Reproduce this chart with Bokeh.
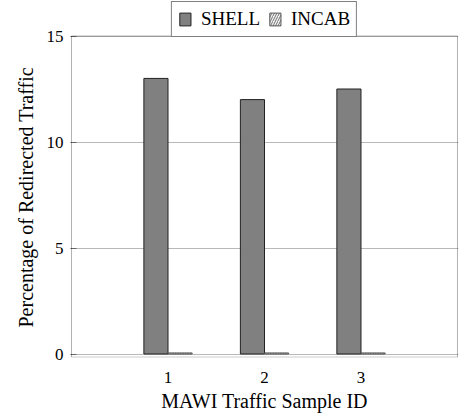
from bokeh.plotting import figure
from bokeh.models import (Range1d, FixedTicker, Legend, LegendItem,
                          ColumnDataSource, BoxAnnotation, Title)
from bokeh.transform import dodge
from bokeh.embed import file_html
from bokeh.resources import INLINE

samples = [1, 2, 3]
tick_labels = {1: "1", 2: "2", 3: "3"}
shell = [13.0, 12.0, 12.5]
incab = [0.05, 0.05, 0.05]
y_ticks = [0, 5, 10, 15]

FONT = "Liberation Serif"

src = ColumnDataSource(dict(sample=samples, shell=shell, incab=incab))

# frame spans the legend strip too; the axis box is drawn as an annotation
p = figure(width=465, height=417, output_backend="svg", toolbar_location=None,
           x_range=Range1d(-0.0104, 4.0104), y_range=Range1d(-0.165, 16.675),
           min_border_left=70, min_border_right=7, min_border_bottom=60,
           min_border_top=0)

r1 = p.vbar(x=dodge("sample", -0.125, range=p.x_range), top="shell", bottom=0,
            width=0.25, source=src, fill_color="#808080", line_color="#222222",
            line_width=1)
r2 = p.vbar(x=dodge("sample", 0.125, range=p.x_range), top="incab", bottom=0,
            width=0.25, source=src, fill_color="#ffffff", line_color="#555555",
            line_width=1, hatch_pattern="/", hatch_color="#333333",
            hatch_scale=5, hatch_weight=0.8)

p.add_layout(BoxAnnotation(left=0, right=4, bottom=-0.15, top=15,
                           fill_color=None, line_color="black", line_width=1))

p.xaxis.ticker = FixedTicker(ticks=samples)
p.xaxis.major_label_overrides = tick_labels
p.yaxis.ticker = FixedTicker(ticks=y_ticks)

for ax in (p.xaxis[0], p.yaxis[0]):
    ax.axis_line_color = None
    ax.major_tick_out = 0
    ax.minor_tick_line_color = None
    ax.major_label_text_font = FONT
    ax.major_label_text_font_size = "17px"
    ax.major_label_text_color = "black"
    ax.axis_label_text_font = FONT
    ax.axis_label_text_font_size = "20px"
    ax.axis_label_text_font_style = "normal"
    ax.axis_label_text_color = "black"

p.xaxis.major_tick_in = 0
p.xaxis.major_tick_line_color = None
p.yaxis.major_tick_in = 6
p.yaxis.major_tick_line_color = "#666666"

p.xaxis.axis_label = "MAWI Traffic Sample ID"
p.xaxis.major_label_standoff = 14
p.xaxis.axis_label_standoff = 4
p.yaxis.major_label_standoff = 7

# y-axis title, centred on the axis box (not on the taller frame)
ytitle = Title(text="Percentage of Redirected Traffic", align="left",
               offset=30, standoff=14, text_font=FONT, text_font_size="20px",
               text_font_style="normal", text_color="black")
p.add_layout(ytitle, "left")

p.xgrid.grid_line_color = None
p.ygrid.ticker = FixedTicker(ticks=y_ticks)
p.ygrid.grid_line_color = "#b8b8b8"
p.ygrid.grid_line_width = 1

p.outline_line_color = None
p.background_fill_color = "white"
p.border_fill_color = "white"

legend = Legend(items=[LegendItem(label="SHELL", renderers=[r1]),
                       LegendItem(label="INCAB", renderers=[r2])],
                orientation="horizontal", location="top_center")
legend.label_text_font = FONT
legend.label_text_font_size = "19px"
legend.label_text_color = "black"
legend.border_line_color = "black"
legend.border_line_width = 1
legend.padding = 6
legend.margin = 1
legend.spacing = 8
legend.label_standoff = 9
legend.glyph_width = 14
legend.glyph_height = 16
legend.label_height = 19
legend.background_fill_alpha = 1.0
p.add_layout(legend, "center")

open("out.html", "w").write(file_html(p, INLINE))
